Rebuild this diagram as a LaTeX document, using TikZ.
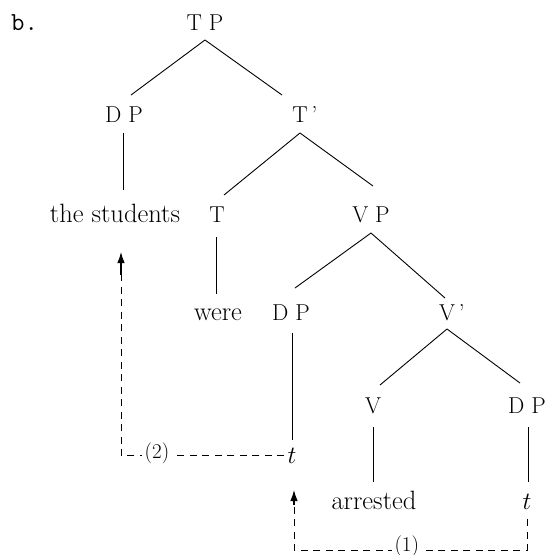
\documentclass[tikz,border=0pt]{standalone}
\usepackage{fontspec}
\setmainfont{Latin Modern Roman}
\setmonofont{Latin Modern Mono}
\usetikzlibrary{arrows.meta}
\begin{document}
\begin{tikzpicture}[x=1pt,y=-1pt,
  cat/.style={anchor=base,inner sep=3pt,font=\fontsize{23}{27}\selectfont},
  word/.style={cat,font=\fontsize{26.5}{30}\selectfont},
  edge/.style={line width=0.9pt},
  move/.style={line width=0.9pt,dash pattern=on 7pt off 5.5pt},
  tip/.style={line width=1.1pt,-{Latex[length=11pt,width=7.5pt]}},
  lbl/.style={fill=white,inner sep=2.5pt,font=\fontsize{21}{24}\selectfont}]
\useasboundingbox (0,0) rectangle (548,555);

% example label
\node[cat,anchor=base west,font=\fontsize{26}{30}\selectfont\ttfamily] (ex) at (8,30) {b.};

% tree nodes
\node[cat] (TP) at (205,30) {T P};
\node[cat] (DP1) at (124,122) {D P};
\node[cat] (Tb) at (300,122) {T\rlap{\,'}};
\node[word] (stud) at (115,222) {the students};
\node[cat] (T) at (217,222) {T};
\node[cat] (VP) at (371,222) {V P};
\node[word] (were) at (218,320) {were};
\node[cat] (DP2) at (291,320) {D P};
\node[cat] (Vb) at (447,320) {V\rlap{\,'}};
\node[cat] (tmid) at (292,463) {$t$};
\node[cat] (V) at (373,413) {V};
\node[cat] (DP3) at (527,413) {D P};
\node[word] (arr) at (374,509) {arrested};
\node[cat] (tr) at (527,509) {$t$};

% branches
\draw[edge] ([yshift=-10pt]TP.base) -- ([xshift=7pt,yshift=27pt]DP1.base);
\draw[edge] ([yshift=-10pt]TP.base) -- ([xshift=-18pt,yshift=27pt]Tb.base);
\draw[edge] ([xshift=-1pt,yshift=-11pt]DP1.base) -- ([xshift=8pt,yshift=32pt]stud.base);
\draw[edge] ([yshift=-11pt]Tb.base) -- ([xshift=7pt,yshift=27pt]T.base);
\draw[edge] ([yshift=-11pt]Tb.base) -- ([xshift=2pt,yshift=36pt]VP.base);
\draw[edge] ([xshift=-1pt,yshift=-15pt]T.base) -- ([xshift=-2pt,yshift=26pt]were.base);
\draw[edge] ([yshift=-11pt]VP.base) -- ([xshift=4pt,yshift=32pt]DP2.base);
\draw[edge] ([yshift=-11pt]VP.base) -- ([xshift=-2pt,yshift=22pt]Vb.base);
\draw[edge] ([xshift=1pt,yshift=-13pt]DP2.base) -- ([yshift=23pt]tmid.base);
\draw[edge] ([yshift=-9pt]Vb.base) -- ([xshift=7pt,yshift=28pt]V.base);
\draw[edge] ([yshift=-9pt]Vb.base) -- ([xshift=-7pt,yshift=30pt]DP3.base);
\draw[edge] ([yshift=-14pt]V.base) -- ([xshift=-1pt,yshift=27pt]arr.base);
\draw[edge] ([xshift=1pt,yshift=-14pt]DP3.base) -- ([xshift=1pt,yshift=27pt]tr.base);

% movement paths
\coordinate (s2) at (121,275);
\coordinate (a2) at (121,252);
\coordinate (c1) at (294,550);
\coordinate (s1) at (294,505);
\coordinate (a1) at (294,490);

\draw[move] (tmid.west) -| node[pos=0.39,lbl,yshift=2pt] {(2)} (s2);
\draw[tip] (s2) -- (a2);

\draw[move,shorten <=7pt] (tr.south) |- node[pos=0.758,lbl,yshift=4pt] {(1)} (c1) -- (s1);
\draw[tip] (s1) -- (a1);
\end{tikzpicture}
\end{document}
